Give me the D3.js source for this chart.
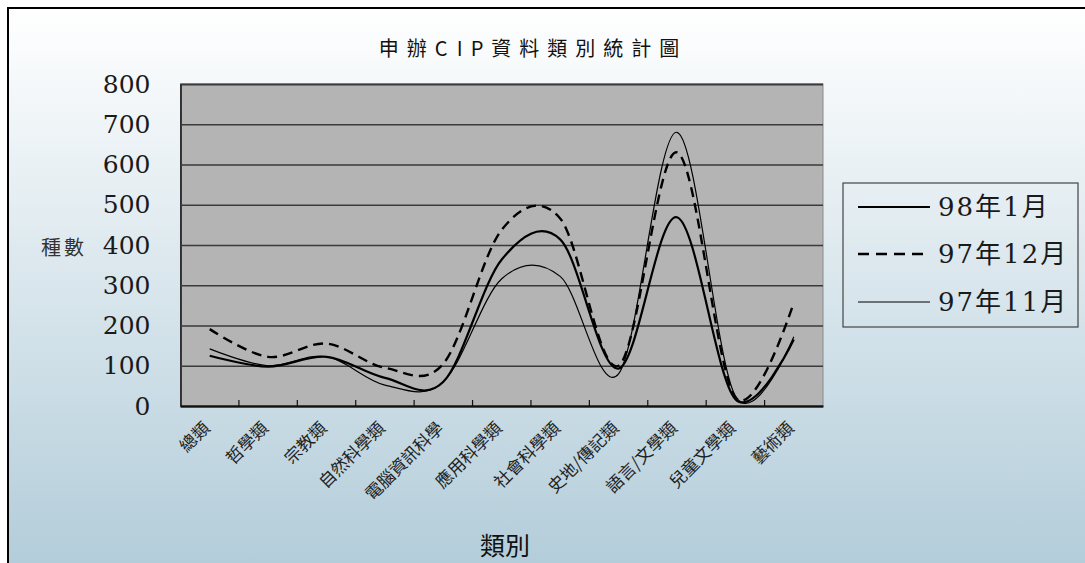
<!DOCTYPE html>
<html>
<head>
<meta charset="utf-8">
<script src="https://cdn.jsdelivr.net/npm/d3@7"></script>
<style>
	body { margin: 0; overflow: hidden; background: #fff; }
	svg { display: block; }
</style>
</head>
<body>
<svg id="chart" width="1085" height="563"></svg>
<script>
// 申辦CIP資料類別統計圖 — three monthly series, smoothed lines.

const categories = ["總類", "哲學類", "宗教類", "自然科學類", "電腦資訊科學", "應用科學類",
	"社會科學類", "史地/傳記類", "語言/文學類", "兒童文學類", "藝術類"];
const seriesNames = ["98年1月", "97年12月", "97年11月"];
const jan98 = [125, 98, 122, 70, 60, 364, 414, 93, 469, 17, 165];
const dec97 = [191, 122, 155, 95, 105, 438, 466, 100, 630, 22, 257];
const nov97 = [142, 100, 123, 52, 60, 316, 322, 80, 680, 25, 172];
const yTicks = [0, 100, 200, 300, 400, 500, 600, 700, 800];

const FONT_NUM = "'DejaVu Serif', 'Noto Sans CJK TC', serif";
const FONT_CJK = "'Noto Sans CJK TC', sans-serif";

const plot = { left: 180.5, right: 823, top: 84, bottom: 406 };

const svg = d3.select("#chart");

// background: light grey-blue vertical gradient
const grad = svg.append("defs").append("linearGradient")
	.attr("id", "bg").attr("x1", 0).attr("y1", 0).attr("x2", 0).attr("y2", 1);
grad.append("stop").attr("offset", "0%").attr("stop-color", "#ffffff");
grad.append("stop").attr("offset", "100%").attr("stop-color", "#adc9d7");

svg.append("rect")
	.attr("x", 8).attr("y", 8).attr("width", 1095).attr("height", 600)
	.attr("fill", "url(#bg)").attr("stroke", "#000").attr("stroke-width", 2);

const x = d3.scaleBand().domain(categories).range([plot.left, plot.right]);
const cx = c => x(c) + x.bandwidth() / 2;
const y = d3.scaleLinear().domain([0, 800]).range([plot.bottom, plot.top]);

// plot area
svg.append("rect")
	.attr("x", plot.left).attr("y", plot.top)
	.attr("width", plot.right - plot.left).attr("height", plot.bottom - plot.top)
	.attr("fill", "#b4b4b4").attr("stroke", "#8a8a8a").attr("stroke-width", 1);

// y axis with gridlines
const gy = svg.append("g")
	.attr("transform", `translate(${plot.left},0)`)
	.call(d3.axisLeft(y).tickValues(yTicks).tickSize(-(plot.right - plot.left)).tickPadding(30));
gy.select(".domain").attr("stroke", "#111").attr("stroke-width", 1.5);
gy.selectAll(".tick line").attr("stroke", "#3a3a3a").attr("stroke-width", 1.3);
gy.selectAll(".tick text")
	.attr("font-family", FONT_NUM).attr("font-size", 25).attr("fill", "#1a1a1a");

// x axis: labels rotated, tick marks at category boundaries pointing up
const gx = svg.append("g")
	.attr("transform", `translate(0,${plot.bottom})`)
	.call(d3.axisBottom(x).tickSize(0).tickPadding(0));
gx.select(".domain").attr("stroke", "#111").attr("stroke-width", 1.8);
gx.selectAll(".tick text")
	.attr("font-family", FONT_CJK).attr("font-size", 17).attr("fill", "#222")
	.attr("text-anchor", "end")
	.attr("dy", "0.35em")
	.attr("transform", "translate(-3,19) rotate(-45)");
gx.selectAll(".boundary")
	.data(categories.slice(1))
	.join("line")
	.attr("x1", d => x(d)).attr("x2", d => x(d))
	.attr("y1", 0).attr("y2", -6)
	.attr("stroke", "#111").attr("stroke-width", 1.2);

// series
const line = d3.line()
	.x((d, i) => cx(categories[i]))
	.y(d => y(d))
	.curve(d3.curveCardinal.tension(0));

const styles = [
	{ data: nov97, width: 1.2, dash: null },
	{ data: dec97, width: 2.4, dash: "10,6" },
	{ data: jan98, width: 2.2, dash: null },
];
styles.forEach(s => {
	svg.append("path")
		.attr("d", line(s.data))
		.attr("fill", "none")
		.attr("stroke", "#000")
		.attr("stroke-width", s.width)
		.attr("stroke-dasharray", s.dash);
});

// titles
const title = svg.append("text")
	.attr("x", 533).attr("y", 47)
	.attr("text-anchor", "middle").attr("dominant-baseline", "central")
	.attr("font-family", FONT_CJK).attr("font-size", 20).attr("fill", "#111")
	.attr("letter-spacing", 8);
title.append("tspan").text("申辦C");
title.append("tspan").attr("letter-spacing", 0).attr("font-size", 6).text(" ");
title.append("tspan").text("IP資料類別統計圖");

svg.append("text")
	.attr("x", 64).attr("y", 246)
	.attr("text-anchor", "middle").attr("dominant-baseline", "central")
	.attr("font-family", FONT_CJK).attr("font-size", 20).attr("fill", "#333")
	.attr("letter-spacing", 3)
	.text("種數");

svg.append("text")
	.attr("x", 505).attr("y", 544)
	.attr("text-anchor", "middle").attr("dominant-baseline", "central")
	.attr("font-family", FONT_CJK).attr("font-size", 25).attr("fill", "#111")
	.text("類別");

// legend
const legend = svg.append("g");
legend.append("rect")
	.attr("x", 843).attr("y", 183).attr("width", 235).attr("height", 144)
	.attr("fill", "none").attr("stroke", "#444").attr("stroke-width", 1.2);
const legendRows = [207, 254, 302];
const legendStyle = [styles[2], styles[1], styles[0]];
seriesNames.forEach((name, i) => {
	const ly = legendRows[i];
	legend.append("line")
		.attr("x1", 858).attr("x2", 930).attr("y1", ly).attr("y2", ly)
		.attr("stroke", "#000")
		.attr("stroke-width", legendStyle[i].width)
		.attr("stroke-dasharray", legendStyle[i].dash ? "11,7" : null);
	legend.append("text")
		.attr("x", 938).attr("y", ly)
		.attr("dominant-baseline", "central")
		.attr("font-family", FONT_NUM).attr("font-size", 26).attr("fill", "#1a1a1a")
		.attr("letter-spacing", 2)
		.text(name);
});
</script>
</body>
</html>
